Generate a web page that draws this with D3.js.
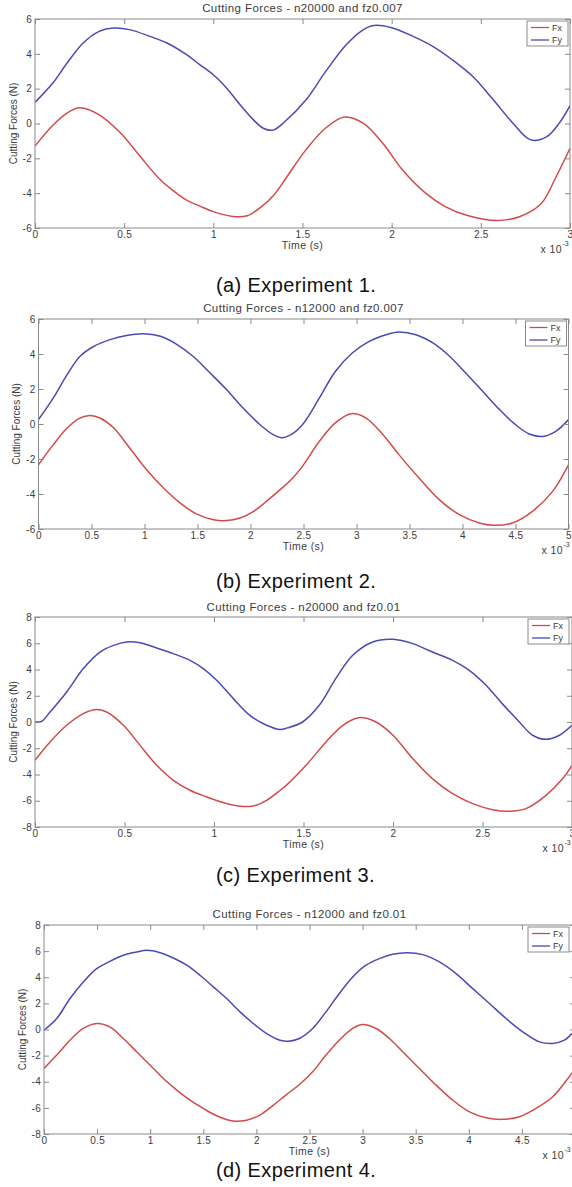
<!DOCTYPE html>
<html>
<head>
<meta charset="utf-8">
<script src="https://cdn.jsdelivr.net/npm/d3@7"></script>
<style>
  body { margin: 0; background: #fff; }
  svg { display: block; font-family: "Liberation Sans", Arial, sans-serif; }
  .frame { fill: none; stroke: #8a8a8a; stroke-width: 1; }
  .axis path { display: none; }
  .axis line { stroke: #8a8a8a; }
  .axis text { fill: #3c3c3c; font-size: 10px; letter-spacing: 0.3px; }
  .title { fill: #3c3c3c; font-size: 11.5px; letter-spacing: 0.4px; }
  .lab { fill: #3c3c3c; font-size: 10px; }
  .xlab { fill: #3c3c3c; font-size: 10.5px; letter-spacing: 0.4px; }
  .caption { fill: #111; font-size: 20px; letter-spacing: 0.4px; }
  .fx { fill: none; stroke: #d24a4a; stroke-width: 1.5; }
  .fy { fill: none; stroke: #4a4ab4; stroke-width: 1.5; }
  .legend rect { fill: #fff; stroke: #8a8a8a; }
  .legend text { fill: #3c3c3c; font-size: 9px; }
</style>
</head>
<body>
<svg></svg>
<script>
// time in units of 10^-3 s, force in N
var fxA = [[0,-1.3],[0.1,-0.1],[0.18,0.6],[0.25,0.9],[0.36,0.5],[0.48,-0.55],[0.59,-1.9],[0.7,-3.2],[0.78,-3.9],[0.85,-4.4],[0.93,-4.77],[1.0,-5.06],[1.11,-5.34],[1.19,-5.3],[1.26,-4.86],[1.34,-4.1],[1.41,-3.1],[1.52,-1.5],[1.63,-0.26],[1.735,0.37],[1.84,0.02],[1.95,-1.13],[2.06,-2.66],[2.19,-4.0],[2.3,-4.77],[2.43,-5.3],[2.59,-5.57],[2.72,-5.34],[2.84,-4.58],[2.92,-3.1],[3.0,-1.42]];
var fyA = [[0,1.21],[0.1,2.32],[0.18,3.47],[0.27,4.62],[0.36,5.29],[0.44,5.48],[0.53,5.39],[0.645,5.0],[0.74,4.62],[0.85,3.95],[0.925,3.37],[1.0,2.8],[1.075,2.03],[1.15,1.08],[1.225,0.21],[1.28,-0.27],[1.335,-0.38],[1.4,0.1],[1.52,1.36],[1.63,2.99],[1.745,4.52],[1.84,5.38],[1.9,5.63],[2.0,5.5],[2.12,5.0],[2.23,4.43],[2.34,3.66],[2.455,2.7],[2.57,1.36],[2.68,0.02],[2.78,-0.94],[2.87,-0.75],[2.94,0.02],[3.0,1.02]];

var fxB = [[0,-2.33],[0.14,-1.18],[0.27,-0.23],[0.39,0.34],[0.49,0.49],[0.58,0.34],[0.71,-0.23],[0.86,-1.37],[1.02,-2.61],[1.18,-3.66],[1.335,-4.51],[1.49,-5.14],[1.65,-5.47],[1.775,-5.52],[1.9,-5.37],[2.03,-4.99],[2.15,-4.42],[2.28,-3.75],[2.38,-3.2],[2.49,-2.42],[2.65,-0.99],[2.8,0.06],[2.95,0.59],[3.09,0.34],[3.25,-0.61],[3.4,-1.75],[3.59,-3.09],[3.78,-4.32],[3.97,-5.18],[4.16,-5.66],[4.28,-5.79],[4.47,-5.66],[4.66,-4.99],[4.85,-3.85],[5.0,-2.33]];
var fyB = [[0,0.25],[0.14,1.49],[0.27,2.82],[0.39,3.86],[0.52,4.43],[0.675,4.82],[0.83,5.06],[0.99,5.16],[1.15,5.01],[1.3,4.57],[1.46,3.86],[1.62,2.91],[1.775,1.96],[1.93,0.91],[2.09,-0.04],[2.215,-0.61],[2.29,-0.78],[2.37,-0.65],[2.49,-0.04],[2.65,1.49],[2.8,3.0],[2.96,4.06],[3.12,4.72],[3.28,5.1],[3.4,5.26],[3.56,5.1],[3.72,4.63],[3.88,3.86],[4.03,2.91],[4.19,1.87],[4.35,0.82],[4.5,-0.04],[4.63,-0.57],[4.755,-0.71],[4.88,-0.42],[5.0,0.25]];

var fxC = [[0,-2.92],[0.084,-1.52],[0.177,-0.25],[0.27,0.64],[0.335,0.94],[0.4,0.76],[0.494,-0.25],[0.587,-1.78],[0.68,-3.3],[0.773,-4.44],[0.866,-5.2],[0.96,-5.71],[1.05,-6.14],[1.145,-6.42],[1.22,-6.4],[1.294,-5.97],[1.37,-5.2],[1.41,-4.75],[1.514,-3.3],[1.626,-1.52],[1.72,-0.25],[1.808,0.33],[1.905,0.0],[2.0,-1.01],[2.11,-2.79],[2.22,-4.31],[2.333,-5.46],[2.445,-6.22],[2.557,-6.68],[2.65,-6.8],[2.743,-6.6],[2.855,-5.59],[2.948,-4.31],[3.0,-3.3]];
var fyC = [[0,0],[0.037,0.05],[0.084,0.76],[0.177,2.29],[0.27,4.07],[0.363,5.33],[0.438,5.84],[0.512,6.1],[0.587,6.04],[0.68,5.64],[0.773,5.21],[0.866,4.7],[0.94,4.07],[1.015,3.18],[1.108,1.78],[1.2,0.51],[1.294,-0.25],[1.37,-0.58],[1.41,-0.45],[1.495,0],[1.588,1.27],[1.68,3.3],[1.775,5.08],[1.887,6.1],[2.0,6.3],[2.11,5.97],[2.22,5.33],[2.333,4.7],[2.426,3.94],[2.52,2.8],[2.61,1.4],[2.706,0],[2.78,-1.01],[2.855,-1.32],[2.93,-1.01],[3.0,-0.25]];

var fxD = [[0,-2.98],[0.12,-1.96],[0.245,-0.82],[0.37,0.08],[0.496,0.46],[0.62,0.2],[0.747,-0.69],[0.873,-1.71],[1.0,-2.73],[1.124,-3.75],[1.25,-4.64],[1.375,-5.41],[1.5,-6.04],[1.626,-6.6],[1.783,-7.01],[1.908,-6.94],[2.034,-6.55],[2.16,-5.79],[2.28,-5.0],[2.4,-4.25],[2.53,-3.24],[2.655,-1.96],[2.78,-0.82],[2.907,0.08],[3.0,0.38],[3.127,0.08],[3.252,-0.69],[3.378,-1.71],[3.535,-2.98],[3.692,-4.26],[3.849,-5.41],[4.006,-6.3],[4.163,-6.75],[4.313,-6.88],[4.476,-6.68],[4.633,-6.04],[4.79,-5.15],[4.97,-3.36],[5.0,-3.05]];
var fyD = [[0,-0.05],[0.12,0.84],[0.245,2.37],[0.37,3.64],[0.496,4.66],[0.62,5.22],[0.747,5.68],[0.873,5.93],[0.967,6.06],[1.092,5.88],[1.218,5.47],[1.344,4.92],[1.469,4.15],[1.595,3.26],[1.72,2.37],[1.846,1.35],[1.971,0.46],[2.097,-0.31],[2.222,-0.82],[2.3,-0.9],[2.404,-0.69],[2.53,0.08],[2.655,1.35],[2.781,2.75],[2.907,4.02],[3.032,4.92],[3.158,5.43],[3.283,5.76],[3.424,5.88],[3.566,5.73],[3.723,5.17],[3.88,4.28],[4.037,3.13],[4.194,1.99],[4.351,0.84],[4.508,-0.18],[4.665,-0.95],[4.79,-1.07],[4.9,-0.82],[4.97,-0.31]];

var titles = ["Cutting Forces - n20000 and fz0.007", "Cutting Forces - n12000 and fz0.007",
              "Cutting Forces - n20000 and fz0.01", "Cutting Forces - n12000 and fz0.01"];
var captions = ["(a) Experiment 1.", "(b) Experiment 2.", "(c) Experiment 3.", "(d) Experiment 4."];
var xMaxes = [3, 5, 3, 5];
var yLimits = [6, 6, 8, 8];
var seriesNames = ["Fx", "Fy"];

var W = 572, H = 1187;
var svg = d3.select("svg").attr("width", W).attr("height", H);

// layout of each panel on the page
var boxes = [
  { left: 35, right: 570, top: 19, bottom: 228, titleY: 8, capY: 292, expX: 562 },
  { left: 38.5, right: 568.5, top: 319, bottom: 529, titleY: 308, capY: 588, expX: 563 },
  { left: 35, right: 572, top: 617, bottom: 827, titleY: 607, capY: 882, expX: 564 },
  { left: 44, right: 575, top: 925, bottom: 1134, titleY: 914, capY: 1177, expX: 564 }
];
var fxAll = [fxA, fxB, fxC, fxD];
var fyAll = [fyA, fyB, fyC, fyD];

boxes.forEach(function (b, i) {
  var xMax = xMaxes[i], yLim = yLimits[i];
  var x = d3.scaleLinear().domain([0, xMax]).range([b.left, b.right]);
  var y = d3.scaleLinear().domain([-yLim, yLim]).range([b.bottom, b.top]);
  var xt = d3.range(0, xMax + 0.001, 0.5);
  var yt = d3.range(-yLim, yLim + 0.001, 2);
  var g = svg.append("g");

  g.append("text").attr("class", "title")
    .attr("x", (b.left + b.right) / 2).attr("y", b.titleY)
    .attr("text-anchor", "middle").attr("dominant-baseline", "central")
    .text(titles[i]);

  var clipId = "clip" + i;
  g.append("clipPath").attr("id", clipId).append("rect")
    .attr("x", b.left).attr("y", b.top)
    .attr("width", b.right - b.left).attr("height", b.bottom - b.top);

  var line = d3.line()
    .curve(d3.curveCatmullRom.alpha(0.5))
    .x(function (d) { return x(d[0]); })
    .y(function (d) { return y(d[1]); });

  g.append("path").attr("class", "fx").attr("clip-path", "url(#" + clipId + ")").attr("d", line(fxAll[i]));
  g.append("path").attr("class", "fy").attr("clip-path", "url(#" + clipId + ")").attr("d", line(fyAll[i]));

  g.append("g").attr("class", "axis")
    .attr("transform", "translate(0," + b.bottom + ")")
    .call(d3.axisBottom(x).tickValues(xt).tickSize(-5).tickPadding(3).tickFormat(function (d) { return String(d); }));
  g.append("g").attr("class", "axis")
    .attr("transform", "translate(0," + b.top + ")")
    .call(d3.axisTop(x).tickValues(xt).tickSize(-5).tickFormat(""));
  g.append("g").attr("class", "axis")
    .attr("transform", "translate(" + b.left + ",0)")
    .call(d3.axisLeft(y).tickValues(yt).tickSize(-5).tickPadding(3).tickFormat(function (d) { return String(d); }));
  g.append("g").attr("class", "axis")
    .attr("transform", "translate(" + b.right + ",0)")
    .call(d3.axisRight(y).tickValues(yt).tickSize(-5).tickFormat(""));

  g.append("rect").attr("class", "frame")
    .attr("x", b.left).attr("y", b.top)
    .attr("width", b.right - b.left).attr("height", b.bottom - b.top);

  g.append("text").attr("class", "lab")
    .attr("transform", "translate(" + (b.left - 22) + "," + ((b.top + b.bottom) / 2) + ") rotate(-90)")
    .attr("text-anchor", "middle").attr("dominant-baseline", "central")
    .text("Cutting Forces (N)");

  g.append("text").attr("class", "xlab")
    .attr("x", (b.left + b.right) / 2).attr("y", b.bottom + 17)
    .attr("text-anchor", "middle").attr("dominant-baseline", "central")
    .text("Time (s)");

  g.append("text").attr("class", "xlab")
    .attr("x", b.expX).attr("y", b.bottom + 21)
    .attr("text-anchor", "end").attr("dominant-baseline", "central")
    .text("x 10");
  g.append("text").attr("class", "lab").style("font-size", "7px")
    .attr("x", b.expX + 0.5).attr("y", b.bottom + 15)
    .attr("dominant-baseline", "central")
    .text("-3");

  // legend
  var lg = g.append("g").attr("class", "legend")
    .attr("transform", "translate(" + (Math.min(b.right, 571) - 43) + "," + (b.top + 2) + ")");
  lg.append("rect").attr("width", 41).attr("height", 25);
  seriesNames.forEach(function (name, k) {
    var ly = 6.5 + k * 12.5;
    lg.append("line").attr("class", k === 0 ? "fx" : "fy")
      .attr("x1", 4).attr("x2", 22).attr("y1", ly).attr("y2", ly).style("stroke-width", 1.3);
    lg.append("text").attr("x", 25).attr("y", ly).attr("dominant-baseline", "central").text(name);
  });

  svg.append("text").attr("class", "caption")
    .attr("x", 216).attr("y", b.capY)
    .text(captions[i]);
});
</script>
</body>
</html>
